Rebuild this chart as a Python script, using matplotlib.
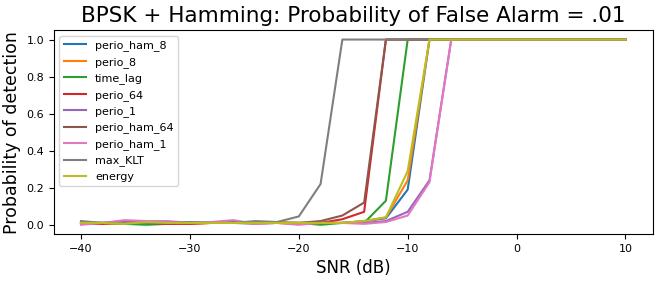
import matplotlib
matplotlib.use("Agg")
import matplotlib.pyplot as plt
import numpy as np

snr = list(range(-40, 11, 2))

perio_ham_8 = [0.01, 0.01, 0.01, 0.005, 0.01, 0.01, 0.01, 0.015, 0.01, 0.01, 0.01, 0.01, 0.01, 0.02,
               0.035, 0.19, 1, 1, 1, 1, 1, 1, 1, 1, 1, 1]
perio_8 = [0.01, 0.005, 0.01, 0.01, 0.01, 0.005, 0.01, 0.01, 0.01, 0.015, 0.01, 0.01, 0.01, 0.02,
           0.04, 0.24, 1, 1, 1, 1, 1, 1, 1, 1, 1, 1]
time_lag = [0.01, 0.01, 0.005, 0.0, 0.005, 0.01, 0.01, 0.01, 0.01, 0.01, 0.01, 0.0, 0.01, 0.01,
            0.13, 1, 1, 1, 1, 1, 1, 1, 1, 1, 1, 1]
perio_64 = [0.005, 0.005, 0.01, 0.01, 0.005, 0.005, 0.01, 0.01, 0.01, 0.01, 0.005, 0.01, 0.03, 0.07,
            1, 1, 1, 1, 1, 1, 1, 1, 1, 1, 1, 1]
perio_1 = [0.01, 0.01, 0.02, 0.015, 0.01, 0.01, 0.01, 0.01, 0.005, 0.01, 0.01, 0.01, 0.01, 0.01,
           0.02, 0.07, 0.24, 1, 1, 1, 1, 1, 1, 1, 1, 1]
perio_ham_64 = [0.01, 0.01, 0.01, 0.01, 0.01, 0.01, 0.01, 0.01, 0.01, 0.01, 0.01, 0.02, 0.05, 0.12,
                1, 1, 1, 1, 1, 1, 1, 1, 1, 1, 1, 1]
perio_ham_1 = [0.0, 0.01, 0.025, 0.02, 0.02, 0.01, 0.015, 0.025, 0.005, 0.01, 0.0, 0.01, 0.01, 0.005,
               0.015, 0.05, 0.23, 1, 1, 1, 1, 1, 1, 1, 1, 1]
max_KLT = [0.02, 0.01, 0.01, 0.01, 0.01, 0.015, 0.01, 0.01, 0.02, 0.015, 0.045, 0.22, 1, 1,
           1, 1, 1, 1, 1, 1, 1, 1, 1, 1, 1, 1]
energy = [0.01, 0.01, 0.005, 0.015, 0.01, 0.01, 0.01, 0.01, 0.01, 0.01, 0.01, 0.01, 0.01, 0.02,
          0.04, 0.29, 1, 1, 1, 1, 1, 1, 1, 1, 1, 1]

series = [("perio_ham_8", perio_ham_8), ("perio_8", perio_8), ("time_lag", time_lag),
          ("perio_64", perio_64), ("perio_1", perio_1), ("perio_ham_64", perio_ham_64),
          ("perio_ham_1", perio_ham_1), ("max_KLT", max_KLT), ("energy", energy)]

fig, ax = plt.subplots(figsize=(6.64, 2.83), dpi=100)
plt.subplots_adjust(left=0.081, right=0.983, top=0.893, bottom=0.173)
for name, vals in series:
    ax.plot(snr, vals, label=name, linewidth=1.5)

ax.set_title("BPSK + Hamming: Probability of False Alarm = .01", fontsize=15.5)
ax.set_xlabel("SNR (dB)", fontsize=12)
ax.set_ylabel("Probability of detection", fontsize=12.5)
ax.tick_params(labelsize=8)
ax.set_xticks([-40, -30, -20, -10, 0, 10])
ax.legend(loc="upper left", fontsize=8)
plt.savefig("out.png")
